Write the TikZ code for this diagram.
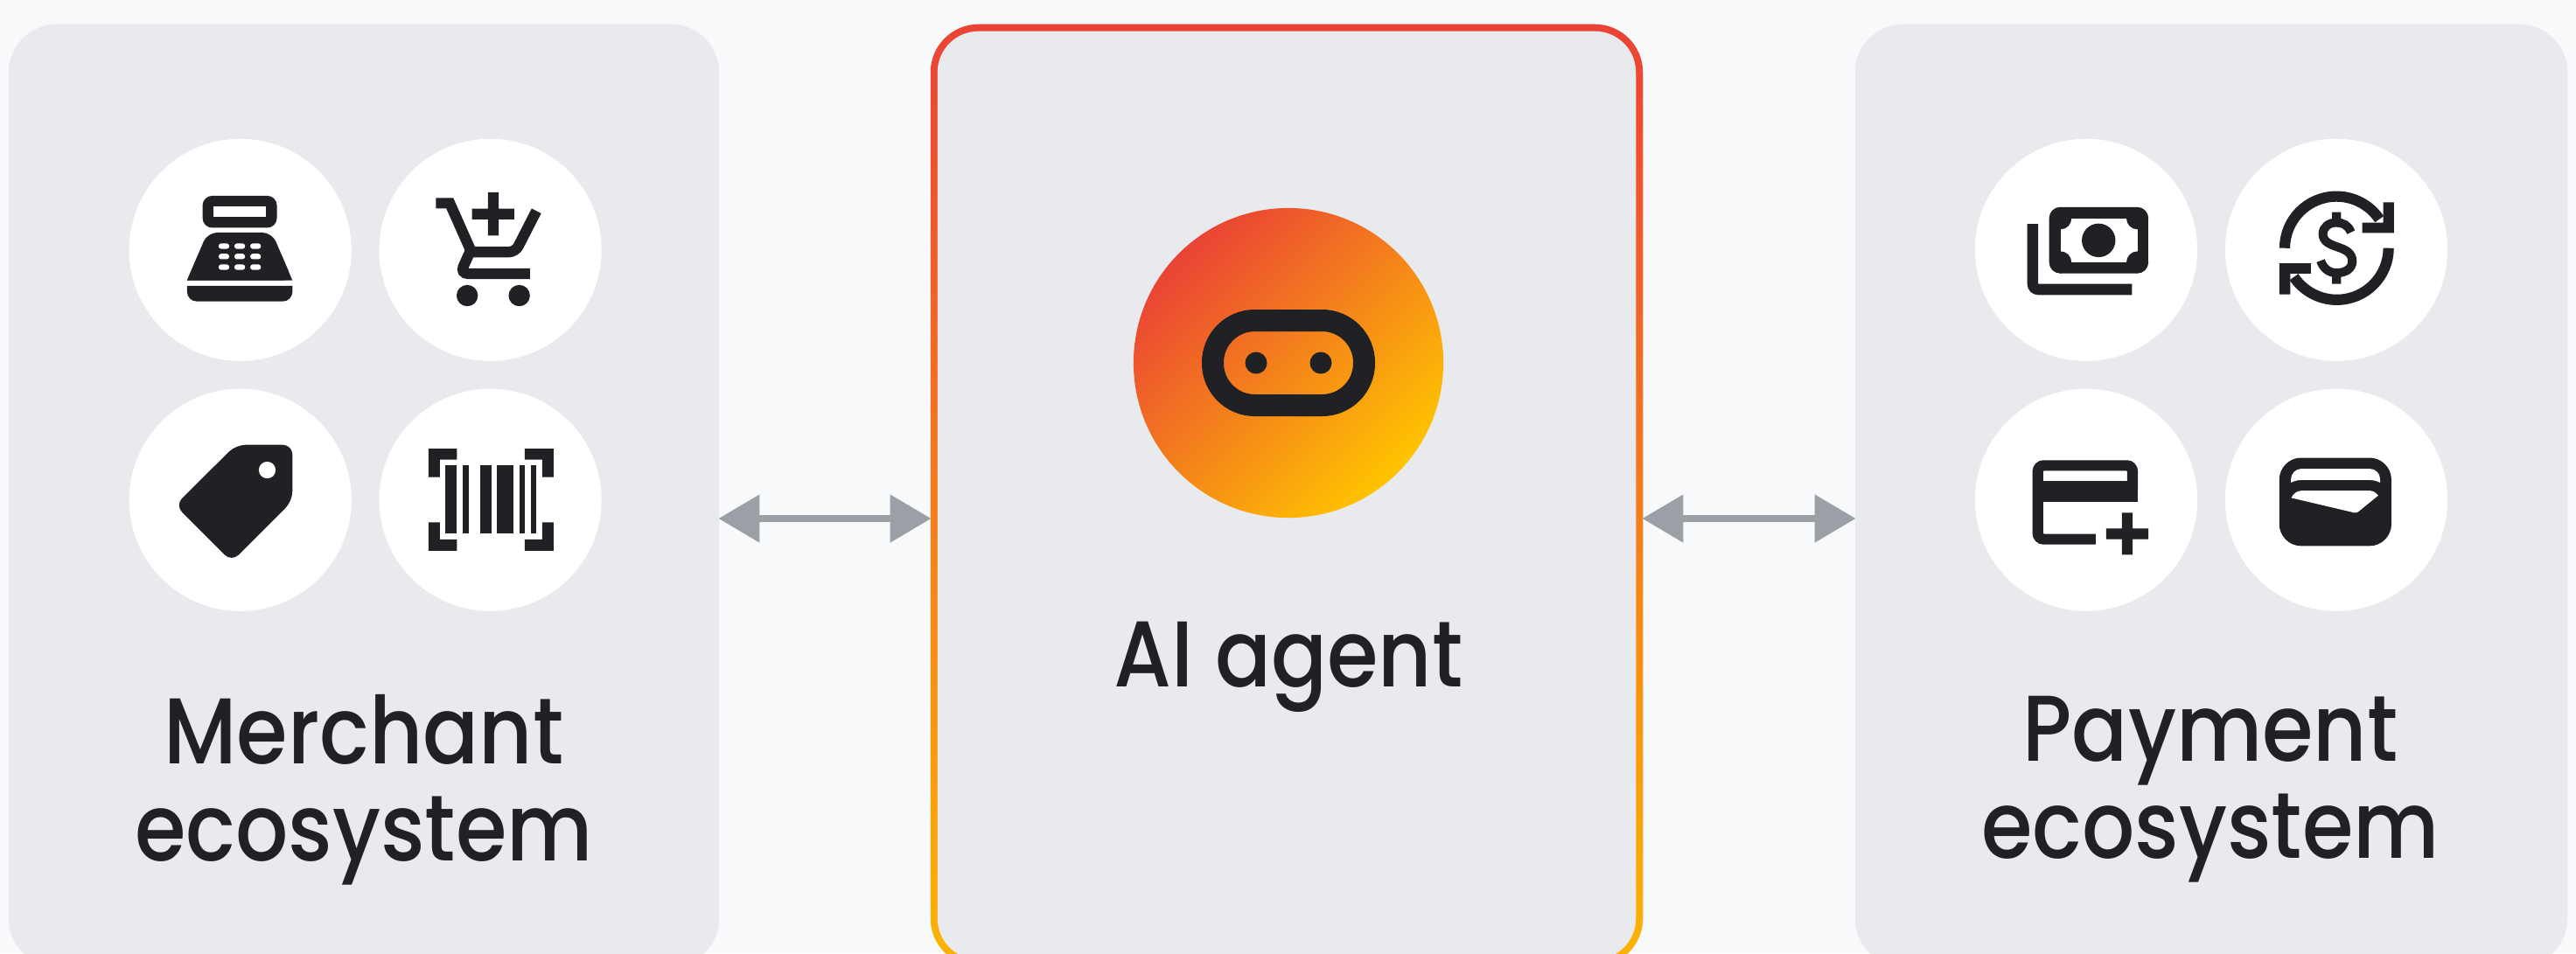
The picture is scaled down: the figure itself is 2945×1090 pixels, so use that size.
\documentclass[tikz,border=0pt]{standalone}
\usepackage{fontspec}
\setmainfont[FakeStretch=0.885]{Poppins Medium}
\usetikzlibrary{arrows.meta}
\definecolor{ink}{HTML}{202124}
\definecolor{pagebg}{HTML}{F8F9FA}
\definecolor{panelbg}{HTML}{E8EAED}
\definecolor{linkgrey}{HTML}{9AA0A6}
\definecolor{gtop}{HTML}{EA4335}
\definecolor{gmid}{HTML}{F5821E}
\definecolor{gbot}{HTML}{FCB404}
\definecolor{ctop}{HTML}{EA4335}
\definecolor{cmid}{HTML}{F68A1C}
\definecolor{cbot}{HTML}{FFC400}
\tikzset{
  panelbox/.style={rectangle,rounded corners=0.55cm,inner sep=0pt,fill=panelbg,minimum width=8.12cm,minimum height=10.77cm},
  disc/.style={circle,fill=white,inner sep=0pt,minimum size=2.54cm},
  caption/.style={text=ink,align=center,inner sep=0pt,font=\fontsize{30.4pt}{31.6pt}\selectfont},
  biarrow/.style={draw=linkgrey,line width=0.085cm,shorten >=-0.015cm,shorten <=-0.015cm,{Triangle[length=0.47cm,width=0.53cm]}-{Triangle[length=0.47cm,width=0.53cm]}},
  iconunits/.style={x=0.0036996cm,y=-0.0036996cm},
  rnd/.style={rounded corners=#1*0.0036996cm}
}
\begin{document}
\begin{tikzpicture}[x=0.01cm,y=-0.01cm]
\useasboundingbox (0,0) rectangle (2945,1090);
\clip (0,0) rectangle (2945,1090);
\fill[pagebg] (0,0) rectangle (2945,1090);

% panels
\node[panelbox] (merchant) at (416,566.5) {};
\node[panelbox,minimum width=8.14cm] (payment) at (2528,566.5) {};
\node[panelbox,minimum width=8.14cm,top color=gtop,middle color=gmid,bottom color=gbot] (agent) at (1471,566.5) {};
\node[panelbox,minimum width=7.98cm,minimum height=10.61cm,rounded corners=0.47cm] (agentin) at (1471,566.5) {};

% arrows
\coordinate (linky) at (0,593);
\draw[biarrow] (merchant.east |- linky) -- (agent.west |- linky);
\draw[biarrow] (agent.east |- linky) -- (payment.west |- linky);

% discs
\node[disc] (d1) at (274.7,285.8) {};
\node[disc] (d2) at (560.6,285.8) {};
\node[disc] (d3) at (274.7,571.7) {};
\node[disc] (d4) at (560.6,571.7) {};
\node[disc] (d5) at (2385,285.8) {};
\node[disc] (d6) at (2671,285.8) {};
\node[disc] (d7) at (2385,571.7) {};
\node[disc] (d8) at (2671,571.7) {};

% agent badge
\node[circle,inner sep=0pt,minimum size=3.54cm,top color=ctop,middle color=cmid,bottom color=cbot,shading angle=45] (badge) at (1473,415) {};
\draw[ink,line width=0.25cm,rounded corners=0.48cm] (1386.5,366.5) rectangle (1559.5,463.5);
\fill[ink] (1436,415) circle (12.5) (1510,415) circle (12.5);

% merchant icons
\begin{scope}[shift={(130,140)}]
\begin{scope}[iconunits]
  % register
  \fill[ink,rnd=30] (275,227) rectangle (505,326);
  \fill[white] (308,260) rectangle (472,293);
  \fill[ink,rnd=30] (227,489) -- (290,341) -- (490,341) -- (553,489) [sharp corners] -- cycle;
  \fill[ink] (227,489) -- (260,412) -- (520,412) -- (553,489) -- cycle;
  \foreach \vv in {383,415,448} \foreach \uu in {341,390,439}
    \fill[white,rounded corners=0.03cm] (\uu-16.5,\vv-8.5) rectangle (\uu+16.5,\vv+8.5);
  \fill[ink] (227,506) -- (553,506) -- (553,524) arc[start angle=0,end angle=90,radius=30] -- (257,554) arc[start angle=90,end angle=180,radius=30] -- cycle;

  % cart
  \draw[ink,line width=0.122cm] (997,250) -- (1040,250) -- (1103,392);
  \draw[ink,line width=0.122cm,rnd=20] (1098,401) -- (1243,401) -- (1308,274);
  \draw[ink,line width=0.122cm,rnd=24] (1105,395) -- (1072,468) -- (1288,468);
  \fill[ink] (1158,216) rectangle (1191,350) (1109,267) rectangle (1239,300);
  \fill[ink] (1094,536) circle (33) (1255,536) circle (33);

  % tag
  \fill[ink,rnd=30] (378,998) -- (553,998) -- (553,1172) -- (365,1360) -- (190,1185) -- cycle;
  \fill[white] (475,1076) circle (26);

  % barcode
  \fill[ink] (974,1010) -- (1062,1010) -- (1062,1044) -- (1009,1044) -- (1009,1098) -- (974,1098) -- cycle;
  \fill[ink] (1272,1010) -- (1361,1010) -- (1361,1098) -- (1326,1098) -- (1326,1044) -- (1272,1044) -- cycle;
  \fill[ink] (974,1238) -- (1009,1238) -- (1009,1291) -- (1062,1291) -- (1062,1326) -- (974,1326) -- cycle;
  \fill[ink] (1326,1238) -- (1361,1238) -- (1361,1326) -- (1272,1326) -- (1272,1291) -- (1326,1291) -- cycle;
  \foreach \ua/\ub in {1027/1062,1080/1098,1133/1168,1185/1238,1255/1273,1291/1308}
    \fill[ink] (\ua,1062) rectangle (\ub,1273);
\end{scope}
\end{scope}

% payment icons
\begin{scope}[shift={(2240,140)}]
\begin{scope}[iconunits]
  % banknotes
  \fill[ink] (210,314) -- (244,314) -- (244,500) -- (534,500) -- (534,534) -- (244,534) arc[start angle=90,end angle=180,radius=34] -- cycle;
  \fill[ink,rnd=34] (278,262) rectangle (584,467);
  \fill[white] (313,297) rectangle (551,433);
  \fill[ink] (313,297) circle (34) (551,297) circle (34) (313,433) circle (34) (551,433) circle (34);
  \fill[ink] (431,365) circle (52);

  % dollar exchange
  \draw[ink,line width=0.122cm] (1007,389) arc[start angle=180,end angle=326,radius=160];
  \draw[ink,line width=0.122cm] (1328,389) arc[start angle=0,end angle=146,radius=160];
  \fill[ink] (1312,247) -- (1345,247) -- (1345,342) -- (1247,342) -- (1247,310) -- (1312,310) -- cycle;
  \fill[ink] (990,436) -- (1088,436) -- (1088,468) -- (1024,468) -- (1024,532) -- (990,532) -- cycle;
  \draw[ink,line width=0.1cm] (1212,340) .. controls (1203,318) and (1187,310) .. (1167,310)
     .. controls (1143,310) and (1125,324) .. (1125,345)
     .. controls (1125,395) and (1216,375) .. (1216,430)
     .. controls (1216,452) and (1195,466) .. (1167,466)
     .. controls (1143,466) and (1125,450) .. (1118,428);
  \fill[ink] (1153,278) rectangle (1181,300) (1153,478) rectangle (1181,500);

  % card plus
  \draw[ink,line width=0.122cm,rnd=18] (422,1290) -- (243,1290) -- (243,1062) -- (536,1062) -- (536,1140);
  \fill[ink] (227,1111) rectangle (553,1176);
  \fill[ink] (503,1208) rectangle (536,1338) (454,1257) rectangle (585,1290);

  % wallet
  \fill[ink,rnd=68] (990,1038) rectangle (1337,1311);
  \fill[white] (1026,1115) -- (1026,1105) arc[start angle=180,end angle=270,radius=33] -- (1270,1072) arc[start angle=270,end angle=360,radius=32] -- (1302,1115)
     .. controls (1292,1110) and (1282,1107) .. (1270,1107) -- (1058,1107) .. controls (1046,1107) and (1036,1110) .. (1026,1115) -- cycle;
  \fill[white] (1027,1162) .. controls (1034,1148) and (1046,1140) .. (1058,1140) -- (1270,1140) .. controls (1280,1140) and (1290,1146) .. (1296,1155)
     -- (1237,1203) .. controls (1233,1207) and (1228,1209) .. (1222,1208) -- cycle;
\end{scope}
\end{scope}

% captions
\node[caption] (mtext) at (416,903) {Merchant\\ecosystem};
\node[caption] (ptext) at (2527,903) {Payment\\ecosystem};
\node[caption,anchor=base] (atext) at (1473,785) {AI agent};
\end{tikzpicture}
\end{document}
